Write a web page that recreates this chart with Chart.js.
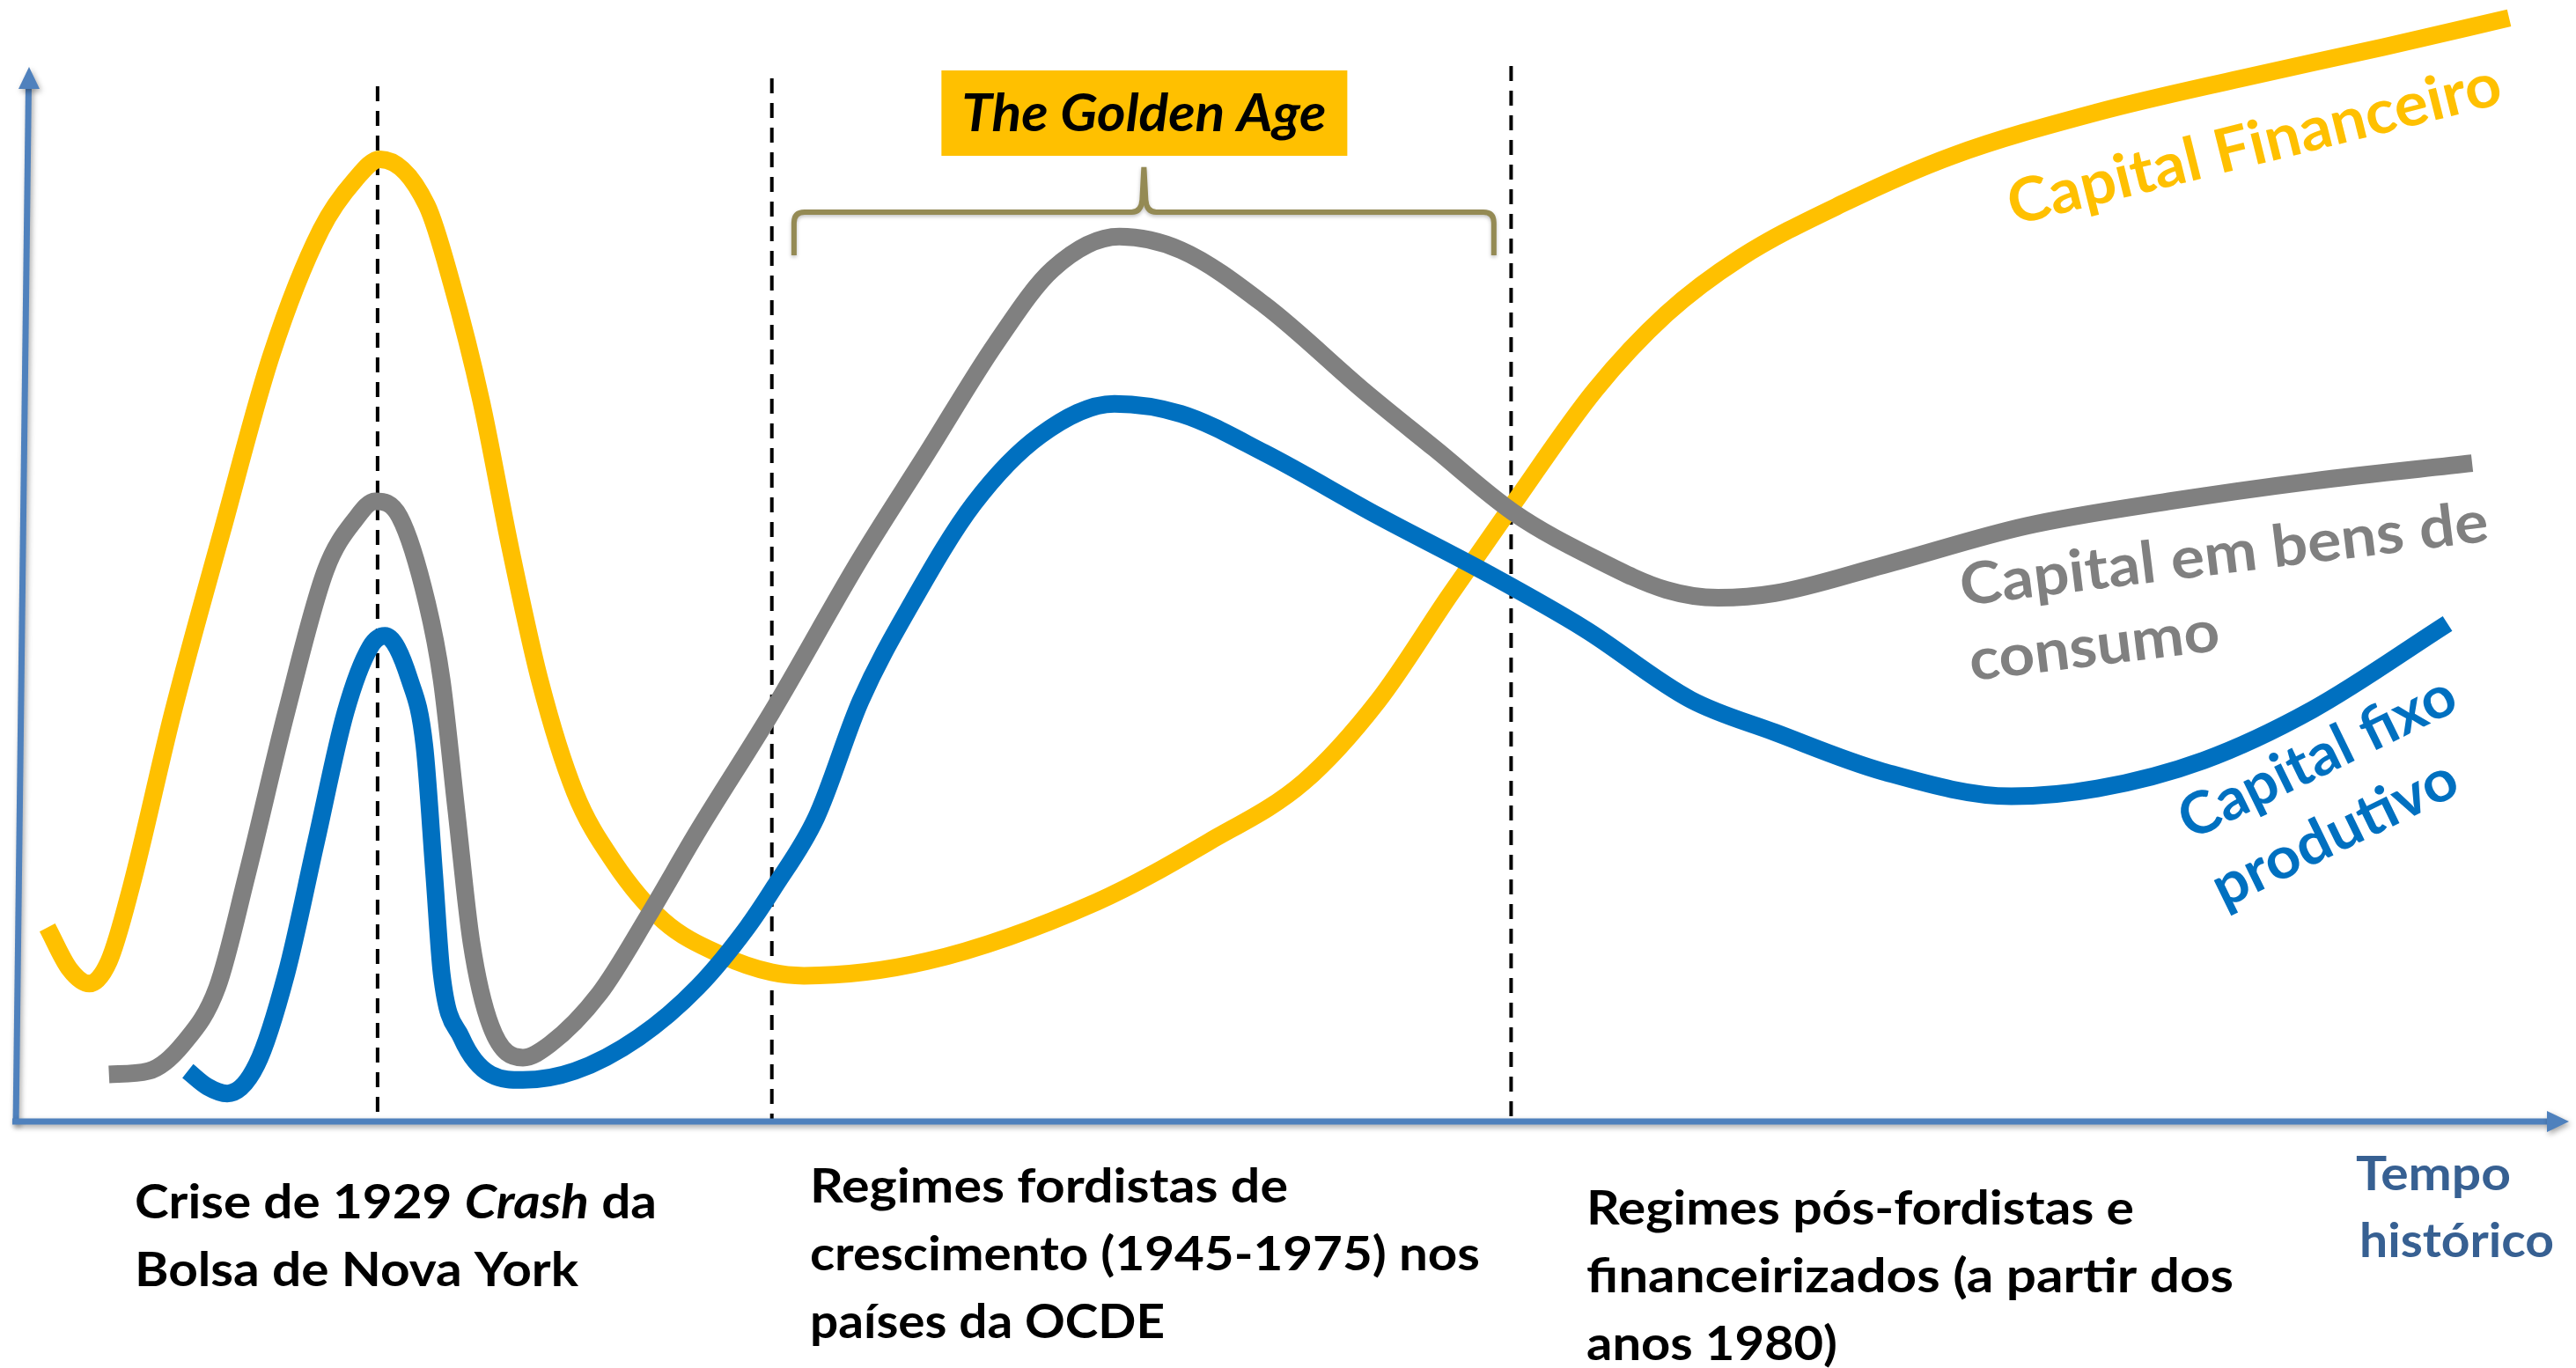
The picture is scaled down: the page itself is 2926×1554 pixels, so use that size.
<!DOCTYPE html>
<html lang="pt">
<head>
<meta charset="utf-8">
<title>Capital financeiro, capital em bens de consumo e capital fixo produtivo</title>
<script src="https://cdn.jsdelivr.net/npm/chart.js@4.4.0/dist/chart.umd.min.js"></script>
<style>
  html, body { margin: 0; padding: 0; background: #fff; }
  #wrap { width: 2926px; height: 1554px; position: relative; }
</style>
</head>
<body>
<div id="wrap"><canvas id="grafico"></canvas></div>
<script>
const anosFinanceiro = [1915.6, 1916.5, 1917.3, 1918.1, 1919.0, 1920.7, 1922.7, 1924.7, 1926.7, 1928.1,
  1929.1, 1931.0, 1932.0, 1933.2, 1934.4, 1935.6, 1937.0, 1938.6, 1940.6, 1943.0,
  1945.0, 1946.3, 1951.3, 1958.2, 1962.7, 1966.6, 1969.6, 1972.5, 1975.1, 1978.4,
  1981.3, 1984.3, 1988.6, 1992.9, 1998.8, 2004.6, 2010.4, 2015.5];
const capitalFinanceiro = [17.3, 13.6, 12.3, 14.3, 20.9, 36.5, 52.7, 68.4, 79.5, 84.0,
  85.8, 81.7, 74.8, 64.3, 51.0, 39.2, 29.4, 23.1, 17.9, 14.8,
  13.3, 13.0, 14.3, 19.6, 24.9, 30.3, 37.5, 46.9, 55.1, 65.2,
  72.0, 77.0, 82.0, 86.1, 90.0, 93.0, 95.8, 98.4];

const anosConsumo = [1918.1, 1919.7, 1921.1, 1922.5, 1923.7, 1925.3, 1926.9, 1928.1, 1928.9, 1929.9,
  1931.0, 1931.6, 1932.2, 1932.8, 1933.6, 1934.9, 1936.0, 1938.0, 1940.0, 1942.0,
  1945.0, 1948.6, 1951.3, 1954.1, 1956.4, 1959.1, 1961.6, 1965.0, 1969.1, 1971.9,
  1975.1, 1978.4, 1981.3, 1983.4, 1985.7, 1990.1, 1995.9, 2001.7, 2007.5, 2014.0];
const capitalConsumo = [4.2, 4.5, 6.9, 12.0, 22.0, 36.5, 49.2, 53.7, 55.3, 53.9,
  46.3, 39.4, 27.7, 16.1, 8.5, 5.7, 6.9, 11.4, 18.4, 25.9,
  36.5, 50.2, 59.6, 69.4, 76.0, 78.9, 77.7, 72.8, 65.0, 60.0,
  54.3, 50.2, 47.4, 46.7, 47.1, 49.6, 53.1, 55.3, 57.1, 58.7];

const anosFixo = [1921.3, 1922.1, 1922.9, 1924.1, 1925.3, 1926.5, 1927.7, 1928.7, 1929.3, 1930.3,
  1930.9, 1931.3, 1931.6, 1932.4, 1933.6, 1934.9, 1937.0, 1939.6, 1942.0, 1944.0,
  1945.1, 1946.8, 1948.6, 1950.7, 1953.2, 1955.9, 1958.9, 1961.6, 1965.0, 1969.6,
  1974.1, 1978.0, 1982.3, 1985.7, 1990.1, 1995.3, 1998.8, 2003.1, 2007.5, 2013.0];
const capitalFixo = [4.5, 3.1, 2.5, 5.1, 13.2, 24.9, 36.5, 42.3, 43.3, 39.4,
  33.5, 22.0, 13.2, 7.5, 4.2, 3.7, 4.5, 7.5, 12.0, 17.3,
  20.9, 27.1, 37.5, 46.3, 55.1, 61.2, 64.0, 63.1, 59.6, 54.0,
  48.8, 43.9, 37.6, 34.7, 31.2, 29.0, 29.7, 32.2, 36.7, 44.4];

// marcos historicos (linhas tracejadas) e periodo da Golden Age
const marcos = [1929, 1945, 1975];
const goldenAge = [1945.9, 1974.3];

const FONTE = 'Lato, "Open Sans", sans-serif';

function pontos(anos, valores) {
  return anos.map((a, i) => ({ x: a, y: valores[i] }));
}

// escreve uma linha (com partes em italico) comprimida ate a largura pedida
function linha(ctx, partes, x, y, largura, tam) {
  let total = 0;
  partes.forEach(p => {
    ctx.font = (p.it ? 'italic ' : '') + 'bold ' + tam + 'px ' + FONTE;
    total += ctx.measureText(p.t).width;
  });
  ctx.save();
  ctx.translate(x, y);
  ctx.scale(largura / total, 1);
  let cx = 0;
  partes.forEach(p => {
    ctx.font = (p.it ? 'italic ' : '') + 'bold ' + tam + 'px ' + FONTE;
    ctx.fillText(p.t, cx, 0);
    cx += ctx.measureText(p.t).width;
  });
  ctx.restore();
}

// bloco de texto, opcionalmente inclinado
function bloco(ctx, linhas, x, y, ang, passo, tam, cor) {
  ctx.save();
  ctx.translate(x, y);
  ctx.rotate(ang * Math.PI / 180);
  ctx.fillStyle = cor;
  ctx.textBaseline = 'alphabetic';
  linhas.forEach((l, i) => {
    const partes = typeof l.t === 'string' ? [{ t: l.t }] : l.t;
    linha(ctx, partes, l.dx || 0, i * passo, l.w, tam);
  });
  ctx.restore();
}

const desenho = {
  id: 'desenho',
  beforeDatasetsDraw(chart) {
    const { ctx, chartArea: { bottom }, scales: { x } } = chart;
    const topos = [98, 89, 75];

    ctx.save();
    ctx.strokeStyle = '#000';
    ctx.lineWidth = 4;
    ctx.setLineDash([17, 11]);
    marcos.forEach((ano, i) => {
      const px = x.getPixelForValue(ano);
      ctx.beginPath();
      ctx.moveTo(px, topos[i]);
      ctx.lineTo(px, bottom);
      ctx.stroke();
    });
    ctx.restore();

    // eixos com setas
    ctx.save();
    ctx.shadowColor = 'rgba(0,0,0,0.35)';
    ctx.shadowBlur = 6;
    ctx.shadowOffsetX = 2;
    ctx.shadowOffsetY = 3;
    ctx.strokeStyle = '#4F81BD';
    ctx.fillStyle = '#4F81BD';
    ctx.lineWidth = 7;
    ctx.beginPath();
    ctx.moveTo(18, bottom + 3);
    ctx.lineTo(32.5, 97);
    ctx.stroke();
    ctx.beginPath();
    ctx.moveTo(33, 76);
    ctx.lineTo(21, 101);
    ctx.lineTo(45, 101);
    ctx.closePath();
    ctx.fill();

    ctx.beginPath();
    ctx.moveTo(14, bottom);
    ctx.lineTo(2896, bottom);
    ctx.stroke();
    ctx.beginPath();
    ctx.moveTo(2918, bottom);
    ctx.lineTo(2893, bottom - 12);
    ctx.lineTo(2893, bottom + 12);
    ctx.closePath();
    ctx.fill();
    ctx.restore();
  },
  afterDraw(chart) {
    const { ctx, scales: { x } } = chart;

    // chave da Golden Age
    const xL = x.getPixelForValue(goldenAge[0]);
    const xR = x.getPixelForValue(goldenAge[1]);
    const xM = (xL + xR) / 2;
    const yH = 241, yTip = 190, yArm = 290, r = 12;
    ctx.save();
    ctx.strokeStyle = '#948A54';
    ctx.lineWidth = 6;
    ctx.shadowColor = 'rgba(0,0,0,0.25)';
    ctx.shadowBlur = 4;
    ctx.shadowOffsetY = 2;
    ctx.beginPath();
    ctx.moveTo(xL, yArm);
    ctx.lineTo(xL, yH + r);
    ctx.quadraticCurveTo(xL, yH, xL + r, yH);
    ctx.lineTo(xM - 14, yH);
    ctx.quadraticCurveTo(xM - 3, yH, xM - 2, yH - 14);
    ctx.lineTo(xM, yTip);
    ctx.lineTo(xM + 2, yH - 14);
    ctx.quadraticCurveTo(xM + 3, yH, xM + 14, yH);
    ctx.lineTo(xR - r, yH);
    ctx.quadraticCurveTo(xR, yH, xR, yH + r);
    ctx.lineTo(xR, yArm);
    ctx.stroke();
    ctx.restore();

    // caixa "The Golden Age"
    ctx.save();
    ctx.fillStyle = '#FFC000';
    ctx.fillRect(xM - 230, 80, 461, 97);
    ctx.fillStyle = '#000';
    linha(ctx, [{ t: 'The Golden Age', it: true }], xM - 207, 149, 414, 59);
    ctx.restore();

    // rotulos das curvas
    bloco(ctx, [{ t: 'Capital Financeiro', w: 575 }], 2287, 256, -14, 86, 69, '#FFC000');
    bloco(ctx, [{ t: 'Capital em bens de', w: 604 }, { t: 'consumo', w: 286 }],
      2229, 688, -7, 86, 66, '#808080');
    bloco(ctx, [{ t: 'Capital fixo', w: 342 }, { t: 'produtivo', w: 302 }],
      2488, 955, -26, 86, 66, '#0070C0');

    // periodos no eixo do tempo
    bloco(ctx, [
      { t: [{ t: 'Crise de 1929 ' }, { t: 'Crash', it: true }, { t: ' da' }], w: 593 },
      { t: 'Bolsa de Nova York', w: 504 }
    ], 153, 1384, 0, 77, 53, '#000');
    bloco(ctx, [
      { t: 'Regimes fordistas de', w: 543 },
      { t: 'crescimento (1945-1975) nos', w: 761 },
      { t: 'países da OCDE', w: 403 }
    ], 920, 1366, 0, 77, 53, '#000');
    bloco(ctx, [
      { t: 'Regimes pós-fordistas e', w: 622 },
      { t: 'financeirizados (a partir dos', w: 735 },
      { t: 'anos 1980)', w: 285 }
    ], 1802, 1391, 0, 77, 53, '#000');
    bloco(ctx, [
      { t: 'Tempo', w: 176 },
      { t: 'histórico', w: 221, dx: 4 }
    ], 2676, 1352, 0, 76, 53, '#376092');
  }
};

new Chart(document.getElementById('grafico'), {
  type: 'line',
  data: {
    datasets: [
      {
        label: 'Capital Financeiro',
        data: pontos(anosFinanceiro, capitalFinanceiro),
        borderColor: '#FFC000',
        order: 3
      },
      {
        label: 'Capital em bens de consumo',
        data: pontos(anosConsumo, capitalConsumo),
        borderColor: '#808080',
        order: 2
      },
      {
        label: 'Capital fixo produtivo',
        data: pontos(anosFixo, capitalFixo),
        borderColor: '#0070C0',
        order: 1
      }
    ]
  },
  options: {
    responsive: true,
    maintainAspectRatio: false,
    animation: false,
    events: [],
    layout: { padding: { left: 37, right: 6, top: 0, bottom: 280 } },
    elements: {
      line: { borderWidth: 20, cubicInterpolationMode: 'monotone', borderJoinStyle: 'round', fill: false },
      point: { radius: 0 }
    },
    scales: {
      x: { type: 'linear', min: 1915, max: 2018, display: false },
      y: { min: 0, max: 100, display: false }
    },
    plugins: {
      legend: { display: false },
      tooltip: { enabled: false }
    }
  },
  plugins: [desenho]
});
</script>
</body>
</html>
